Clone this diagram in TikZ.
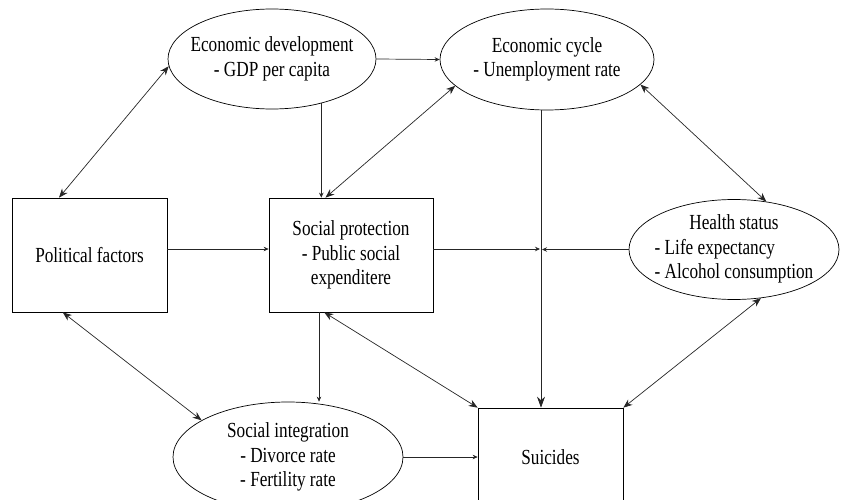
\documentclass[tikz,border=0pt]{standalone}
\usepackage{fontspec}
\setmainfont{Liberation Serif}[FakeStretch=0.8]
\usetikzlibrary{shapes.geometric,arrows.meta}

\begin{document}
\begin{tikzpicture}[x=1pt,y=-1pt,
        txt/.style={align=center,font=\fontsize{21.5}{24.5}\selectfont},
        box/.style={draw,line width=0.7pt,minimum height=114pt,inner sep=0pt},
        oval/.style={draw,ellipse,line width=0.7pt,inner sep=0pt},
        smalltip/.style={->,>={Stealth[length=5pt,width=4.5pt]}},
        bigtip/.style={->,>={Stealth[length=11pt,width=8pt]}},
        twoway/.style={<->,>={Stealth[length=9pt,width=7pt]}},
        lnk/.style={line width=0.7pt,black!85}]
    \clip (0,0) rectangle (841,500);

    % boxes
    \node[box,txt,minimum width=155pt] (political) at (89.5,255) {Political factors};
    \node[box,txt,minimum width=164pt] (socprot) at (351,255) {Social protection\\- Public social\\expenditere};
    \node[box,txt,minimum width=145pt,minimum height=98pt] (suicides) at (550.5,457) {Suicides};

    % ellipses
    \node[oval,minimum width=208pt,minimum height=100pt] (econdev) at (272,59) {};
    \node[txt] (econdevtxt) at (econdev) {Economic development\\- GDP per capita};
    \node[oval,minimum width=214pt,minimum height=101pt] (econcycle) at (547,59.5) {};
    \node[txt] (econcycletxt) at (econcycle) {Economic cycle\\- Unemployment rate};
    \node[oval,minimum width=210pt,minimum height=100pt] (health) at (734,249.5) {};
    \node[txt] (healthtxt) at (health) {\begin{tabular}{@{}l@{}}\multicolumn{1}{@{}c@{}}{Health status}\\- Life expectancy\\- Alcohol consumption\end{tabular}};
    \node[oval,minimum width=230pt,minimum height=110pt] (socint) at (288,457) {};
    \node[txt] (socinttxt) at (socint) {Social integration\\- Divorce rate\\- Fertility rate};

    \coordinate (junc) at (541,249);

    % links
    \draw[lnk,twoway] (political.118) -- (econdev.184);
    \draw[lnk,smalltip] (econdev.east) -- (econcycle.west);
    \draw[lnk,smalltip] (econdev.-42.5) -- (econdev.-42.5 |- socprot.north);
    \draw[lnk,twoway] (socprot.114.5) -- (econcycle.196);
    \draw[lnk,twoway] (econcycle.-15.1) -- (health.56);
    \draw[lnk,smalltip] ([yshift=6pt]political.east) -- ([yshift=6pt]socprot.west);
    \draw[lnk,smalltip,shorten >=1pt] ([yshift=6pt]socprot.east) -- (junc);
    \draw[lnk,smalltip,shorten >=1pt] (health.west) -- (health.west -| junc);
    \draw[lnk,bigtip] (econcycle.south -| junc) -- (junc |- suicides.north);
    \draw[lnk,twoway] (health.-61) -- (suicides.north east);
    \draw[lnk,twoway] (socprot.245.5) -- (suicides.north west);
    \draw[lnk,smalltip] ([xshift=-32pt]socprot.south) -- ([xshift=-32pt]socprot.south |- socint.north);
    \draw[lnk,twoway] (political.245) -- (socint.157.6);
    \draw[lnk,smalltip] (socint.east) -- (suicides.west);
\end{tikzpicture}
\end{document}
